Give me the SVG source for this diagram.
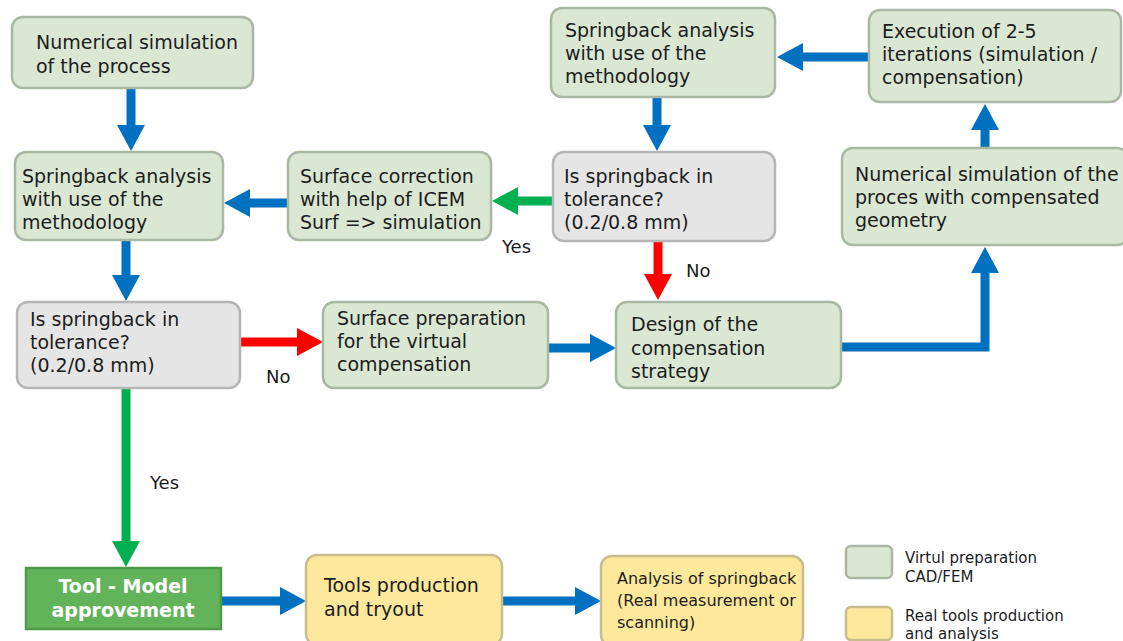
<svg xmlns="http://www.w3.org/2000/svg" width="1123" height="641" viewBox="0 0 1123 641">
<defs>
<style>
.g{fill:#dae8d3;stroke:#a9b8a2;stroke-width:2.5}
.q{fill:#e5e5e5;stroke:#b5b5b5;stroke-width:2.5}
.y{fill:#fde89c;stroke:#c9bc8c;stroke-width:2.5}
.k{fill:#63b35b;stroke:#4f9a48;stroke-width:2.5}
text{font-family:"DejaVu Sans",Verdana,sans-serif;fill:#1c1c1c}
.t{font-size:19px}
.s{font-size:16px}
.l{font-size:15px}
.lb{font-size:18px}
.w{font-size:19px;font-weight:bold;fill:#ffffff}
.cb{fill:none;stroke:#0070c0;stroke-width:9}
.cg{fill:none;stroke:#00b050;stroke-width:9}
.cr{fill:none;stroke:#ff0000;stroke-width:9}
</style>
<marker id="hb" markerUnits="userSpaceOnUse" markerWidth="28" markerHeight="30" refX="1" refY="15" orient="auto"><path d="M0,1 L26,15 L0,29 z" fill="#0070c0"/></marker>
<marker id="hg" markerUnits="userSpaceOnUse" markerWidth="28" markerHeight="30" refX="1" refY="15" orient="auto"><path d="M0,1 L26,15 L0,29 z" fill="#00b050"/></marker>
<marker id="hr" markerUnits="userSpaceOnUse" markerWidth="28" markerHeight="30" refX="1" refY="15" orient="auto"><path d="M0,1 L26,15 L0,29 z" fill="#ff0000"/></marker>
</defs>
<rect width="1123" height="641" fill="#ffffff"/>

<g id="connectors">
<line class="cb" x1="131" y1="88" x2="131" y2="126" marker-end="url(#hb)"/>
<line class="cb" x1="288" y1="203" x2="249" y2="203" marker-end="url(#hb)"/>
<line class="cg" x1="553" y1="201" x2="517" y2="201" marker-end="url(#hg)"/>
<line class="cb" x1="657" y1="97" x2="657" y2="126" marker-end="url(#hb)"/>
<line class="cb" x1="869" y1="57" x2="802" y2="57" marker-end="url(#hb)"/>
<line class="cb" x1="985" y1="148" x2="985" y2="129" marker-end="url(#hb)"/>
<path class="cb" d="M841,347 H985 V272" marker-end="url(#hb)"/>
<line class="cr" x1="658" y1="241" x2="658" y2="275" marker-end="url(#hr)"/>
<line class="cb" x1="126" y1="240" x2="126" y2="276" marker-end="url(#hb)"/>
<line class="cr" x1="241" y1="342" x2="298" y2="342" marker-end="url(#hr)"/>
<line class="cb" x1="548" y1="348" x2="591" y2="348" marker-end="url(#hb)"/>
<line class="cg" x1="126" y1="389" x2="126" y2="542" marker-end="url(#hg)"/>
<line class="cb" x1="221" y1="601" x2="281" y2="601" marker-end="url(#hb)"/>
<line class="cb" x1="502" y1="601" x2="576" y2="601" marker-end="url(#hb)"/>
<text class="lb" x="502" y="253">Yes</text>
<text class="lb" x="686" y="277">No</text>
<text class="lb" x="266" y="383">No</text>
<text class="lb" x="150" y="489">Yes</text>
</g>

<g id="nodeA"><rect class="g" x="12" y="17" width="241" height="71" rx="11"/>
<text class="t" x="36"><tspan x="36" y="49">Numerical simulation</tspan><tspan x="36" y="73">of the process</tspan></text></g>

<g id="nodeB"><rect class="g" x="15" y="152" width="208" height="88" rx="11"/>
<text class="t"><tspan x="22" y="183">Springback analysis</tspan><tspan x="22" y="206">with use of the</tspan><tspan x="22" y="229">methodology</tspan></text></g>

<g id="nodeC"><rect class="g" x="288" y="152" width="203" height="88" rx="11"/>
<text class="t"><tspan x="300" y="183">Surface correction</tspan><tspan x="300" y="206">with help of ICEM</tspan><tspan x="300" y="229">Surf =&gt; simulation</tspan></text></g>

<g id="nodeD"><rect class="q" x="553" y="152" width="222" height="89" rx="11"/>
<text class="t"><tspan x="564" y="183">Is springback in</tspan><tspan x="564" y="206">tolerance?</tspan><tspan x="564" y="229">(0.2/0.8 mm)</tspan></text></g>

<g id="nodeE"><rect class="g" x="551" y="8" width="224" height="89" rx="11"/>
<text class="t"><tspan x="565" y="37">Springback analysis</tspan><tspan x="565" y="60">with use of the</tspan><tspan x="565" y="83">methodology</tspan></text></g>

<g id="nodeF"><rect class="g" x="869" y="10" width="252" height="92" rx="11"/>
<text class="t"><tspan x="882" y="38">Execution of 2-5</tspan><tspan x="882" y="61">iterations (simulation /</tspan><tspan x="882" y="84">compensation)</tspan></text></g>

<g id="nodeG"><rect class="g" x="842" y="148" width="286" height="97" rx="11"/>
<text class="t"><tspan x="855" y="181">Numerical simulation of the</tspan><tspan x="855" y="204">proces with compensated</tspan><tspan x="855" y="227">geometry</tspan></text></g>

<g id="nodeH"><rect class="q" x="17" y="302" width="223" height="86" rx="11"/>
<text class="t"><tspan x="30" y="326">Is springback in</tspan><tspan x="30" y="349">tolerance?</tspan><tspan x="30" y="372">(0.2/0.8 mm)</tspan></text></g>

<g id="nodeI"><rect class="g" x="323" y="302" width="225" height="86" rx="11"/>
<text class="t"><tspan x="337" y="325">Surface preparation</tspan><tspan x="337" y="348">for the virtual</tspan><tspan x="337" y="371">compensation</tspan></text></g>

<g id="nodeJ"><rect class="g" x="616" y="302" width="225" height="86" rx="11"/>
<text class="t"><tspan x="631" y="331">Design of the</tspan><tspan x="631" y="355">compensation</tspan><tspan x="631" y="378">strategy</tspan></text></g>

<g id="nodeK"><rect class="k" x="26" y="568" width="195" height="61"/>
<text class="w" text-anchor="middle"><tspan x="123" y="593">Tool - Model</tspan><tspan x="123" y="617">approvement</tspan></text></g>

<g id="nodeL"><rect class="y" x="306" y="555" width="196" height="90" rx="11"/>
<text class="t"><tspan x="324" y="592">Tools production</tspan><tspan x="324" y="616">and tryout</tspan></text></g>

<g id="nodeM"><rect class="y" x="601" y="556" width="202" height="90" rx="11"/>
<text class="s"><tspan x="617" y="584">Analysis of springback</tspan><tspan x="617" y="606">(Real measurement or</tspan><tspan x="617" y="628">scanning)</tspan></text></g>

<g id="legend">
<rect class="g" x="846" y="546" width="46" height="32" rx="5"/>
<text class="l"><tspan x="905" y="563">Virtul preparation</tspan><tspan x="905" y="582">CAD/FEM</tspan></text>
<rect class="y" x="846" y="607" width="46" height="33" rx="5"/>
<text class="l"><tspan x="905" y="621">Real tools production</tspan><tspan x="905" y="639">and analysis</tspan></text>
</g>
</svg>
